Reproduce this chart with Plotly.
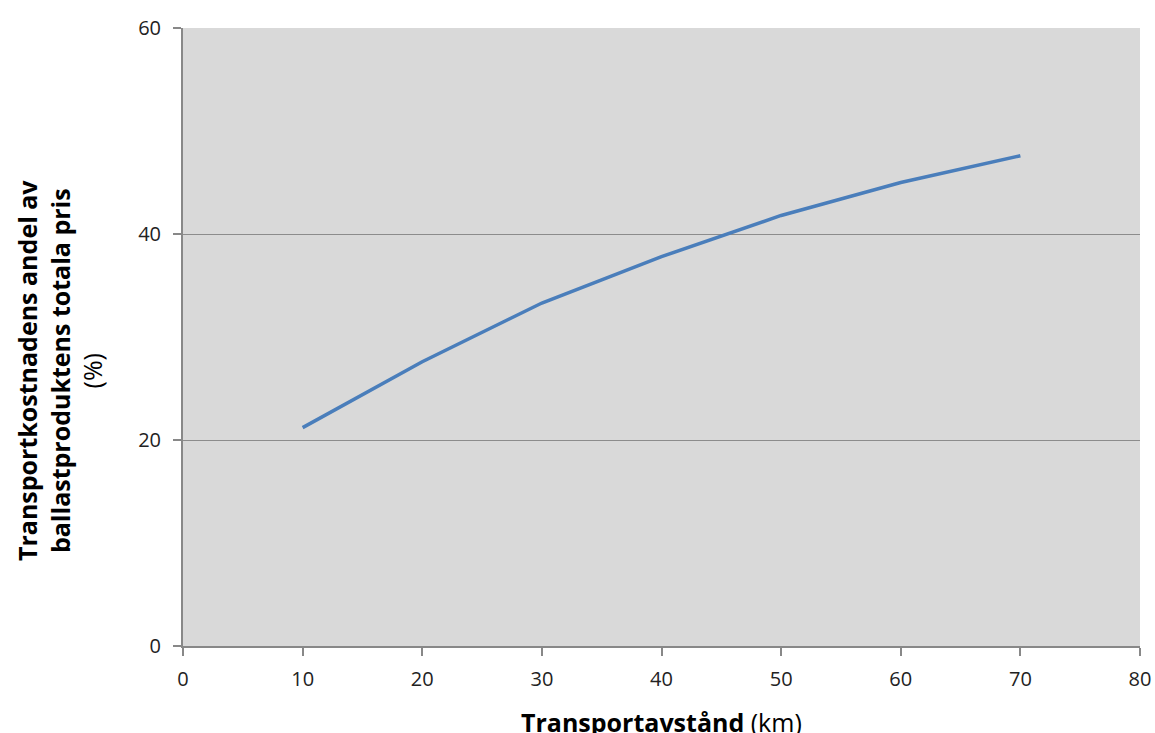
import plotly.graph_objects as go

distance_km = [10, 20, 30, 40, 50, 60, 70]
share_pct = [21.2, 27.6, 33.3, 37.8, 41.8, 45.0, 47.6]

x_ticks = [0, 10, 20, 30, 40, 50, 60, 70, 80]
y_ticks = [0, 20, 40, 60]

FONT = "'Open Sans', Lato, sans-serif"

fig = go.Figure()
fig.add_trace(go.Scatter(
    x=distance_km, y=share_pct, mode="lines",
    line=dict(color="#4a7ebb", width=3.5),
    showlegend=False,
))

fig.update_layout(
    autosize=False,
    width=1155, height=733,
    margin=dict(l=183, r=15, t=28, b=87),
    paper_bgcolor="white",
    plot_bgcolor="#d9d9d9",
    font=dict(family=FONT, size=20, color="#222222"),
    xaxis=dict(
        range=[0, 80], tickvals=x_ticks, showgrid=False, zeroline=False,
        showline=True, linecolor="#888888", linewidth=2,
        ticks="outside", ticklen=8, tickcolor="#888888", tickwidth=1.5,
        tickfont=dict(size=20), ticklabelstandoff=6,
        automargin=False, ticklabeloverflow="allow",
    ),
    yaxis=dict(
        range=[0, 60], tickvals=y_ticks, showgrid=True, gridcolor="#8c8c8c", gridwidth=1,
        zeroline=False, showline=True, linecolor="#888888", linewidth=2,
        ticks="outside", ticklen=8, tickcolor="#888888", tickwidth=1.5,
        tickfont=dict(size=20), ticklabelstandoff=8,
        automargin=False,
    ),
    annotations=[
        dict(
            text="<b>Transportavstånd</b> (km)",
            xref="paper", yref="paper", x=0.5, y=0, yshift=-76,
            xanchor="center", yanchor="middle", showarrow=False,
            font=dict(size=25, color="black"),
        ),
        dict(
            text="<b>Transportkostnadens andel av</b><br><b>ballastproduktens totala pris</b><br>(%)",
            xref="paper", yref="paper", x=0, y=0.5, xshift=-124, yshift=-34,
            xanchor="center", yanchor="middle", textangle=-90, showarrow=False,
            font=dict(size=25, color="black"),
        ),
    ],
)

fig.write_html(
    "out.html",
    config={"displayModeBar": False, "responsive": False},
    post_script="document.body.style.margin='0';document.body.style.overflow='hidden';",
)
